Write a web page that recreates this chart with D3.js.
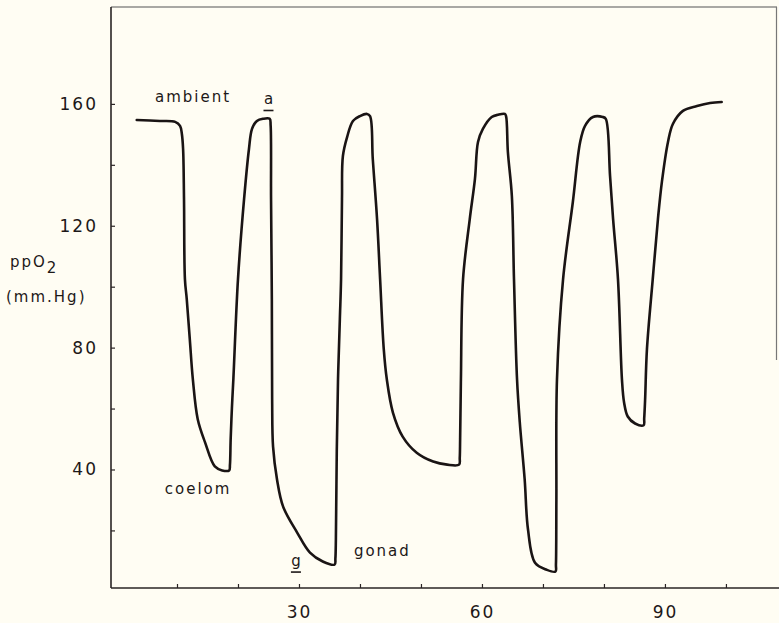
<!DOCTYPE html>
<html>
<head>
<meta charset="utf-8">
<script src="https://cdn.jsdelivr.net/npm/d3@7"></script>
<style>
  html, body { margin: 0; padding: 0; background: #fffdf3; }
  svg { display: block; }
  text { font-family: "DejaVu Sans", sans-serif; fill: #1d1818; }
</style>
</head>
<body>
<svg id="chart" width="779" height="623"></svg>
<script>
// time (x) values of the trace
const traceTime = [3.4, 7.2, 9.7, 10.5, 10.8, 11.0, 11.15, 11.3, 11.6, 12.1, 12.6, 13.4, 14.6, 16.2, 17.4, 18.55,
  18.68, 18.8, 19.0, 19.25, 20.0, 21.0, 21.8, 22.3, 23.1, 24.1, 25.2,
  25.35, 25.42, 25.55, 25.6, 25.75, 26.4, 27.4, 29.7, 31.8, 33.9, 35.85,
  35.97, 36.05, 36.2, 36.4, 36.7, 36.9, 37.05, 37.2, 37.9, 38.85, 40.0, 41.15, 41.65,
  42.1, 42.8, 43.3, 43.9, 44.4, 45.4, 47.0, 49.3, 52.0, 54.3, 56.25,
  56.36, 56.42, 56.55, 56.9, 58.0, 58.85, 59.35, 60.15, 61.6, 62.6, 63.75,
  63.95, 64.25, 64.9, 65.25, 65.75, 66.2, 67.0, 67.55, 68.7, 70.6, 72.05,
  72.13, 72.2, 72.3, 73.3, 74.9, 76.1, 76.9, 78.2, 79.8, 80.3,
  81.0, 81.5, 82.3, 82.95, 83.3, 83.9, 85.1, 86.5,
  86.6, 86.75, 87.05, 88.0, 88.85, 89.5, 90.5, 91.3, 92.95, 95.25, 97.4, 99.3];
// ppO2 values of the trace (mm Hg)
const tracePpO2 = [154.7, 154.4, 154.1, 152.8, 150.1, 145.2, 128.8, 102.5, 95.9, 82.7, 69.6, 56.5, 48.9, 41.0, 39.7, 39.7,
  41.5, 50.0, 60.0, 70.0, 102.5, 128.8, 145.2, 151.8, 154.4, 155.1, 155.1,
  153.0, 128.8, 95.9, 63.0, 47.5, 36.7, 27.8, 19.3, 12.7, 9.8, 8.8,
  10.8, 17.0, 46.6, 69.6, 89.3, 102.5, 128.8, 142.9, 149.2, 154.4, 156.0, 156.7, 156.0,
  141.9, 122.2, 102.5, 79.5, 69.6, 58.7, 50.8, 45.5, 42.6, 41.6, 41.6,
  43.8, 50.0, 69.6, 102.5, 122.2, 135.4, 147.5, 151.8, 155.7, 156.4, 156.7,
  156.0, 144.2, 129.8, 102.5, 69.6, 55.5, 36.8, 20.3, 9.4, 7.1, 6.5,
  8.8, 30.0, 69.6, 102.5, 127.8, 147.5, 152.8, 155.7, 155.7, 155.1,
  136.4, 122.2, 102.5, 69.6, 62.0, 57.4, 55.1, 54.5,
  56.8, 63.0, 79.5, 102.5, 122.2, 134.4, 147.5, 153.4, 157.7, 159.3, 160.3, 160.6];

const xTicks = [10, 20, 30, 40, 50, 60, 70, 80, 90, 100];
const xTickLabels = [30, 60, 90];
const yTicks = [20, 40, 60, 80, 100, 120, 140, 160];
const yTickLabels = [40, 80, 120, 160];

const annotations = [
  { text: "ambient", t: 6.4, p: 160.5, under: false },
  { text: "a", t: 25.0, p: 159.8, under: true },
  { text: "coelom", t: 8.0, p: 31.8, under: false },
  { text: "g", t: 29.5, p: 8.3, under: true },
  { text: "gonad", t: 39.0, p: 11.5, under: false }
];

const svg = d3.select("#chart");
const x = d3.scaleLinear().domain([-0.82, 108.7]).range([111, 779]);
const y = d3.scaleLinear().domain([1.1, 191.8]).range([588, 7]);

const axisColor = "#2a2424";

// frame: top line and partial right line
svg.append("line").attr("x1", x(-0.82)).attr("x2", 777).attr("y1", 7).attr("y2", 7)
  .attr("stroke", "#555").attr("stroke-width", 1.2);
svg.append("line").attr("x1", 776.5).attr("x2", 776.5).attr("y1", 7).attr("y2", 360)
  .attr("stroke", "#777").attr("stroke-width", 1.2);

// x axis
const gx = svg.append("g").attr("transform", `translate(0,${y(1.1)})`)
  .call(d3.axisBottom(x).tickValues(xTicks).tickSize(-4).tickPadding(18)
    .tickFormat(d => xTickLabels.includes(d) ? d : ""));
gx.select(".domain").attr("stroke", axisColor).attr("stroke-width", 1.6)
  .attr("d", `M${x(-0.82)},0H779`);
gx.selectAll(".tick line").attr("stroke", axisColor).attr("stroke-width", 1.2);
gx.selectAll(".tick text").style("font-size", "17px").style("letter-spacing", "2px")
  .attr("font-family", null).attr("fill", "#1d1818");

// y axis
const gy = svg.append("g").attr("transform", `translate(${x(-0.82)},0)`)
  .call(d3.axisLeft(y).tickValues(yTicks).tickSize(-4).tickPadding(13)
    .tickFormat(d => yTickLabels.includes(d) ? d : ""));
gy.select(".domain").attr("stroke", axisColor).attr("stroke-width", 1.6)
  .attr("d", `M0,7V${y(1.1)}`);
gy.selectAll(".tick line").attr("stroke", axisColor).attr("stroke-width", 1.2);
gy.selectAll(".tick text").style("font-size", "17px").style("letter-spacing", "2px")
  .attr("font-family", null).attr("fill", "#1d1818");

// y axis title
const yt = svg.append("text").attr("x", 10).attr("y", 267).style("font-size", "15px").style("letter-spacing", "2px");
yt.append("tspan").text("ppO");
yt.append("tspan").attr("dy", 6).style("font-size", "15px").text("2");
svg.append("text").attr("x", 6).attr("y", 302).style("font-size", "15px").style("letter-spacing", "2px").text("(mm.Hg)");

// trace
const pts = traceTime.map((t, i) => [t, tracePpO2[i]]);
const line = d3.line().x(d => x(d[0])).y(d => y(d[1])).curve(d3.curveCatmullRom.alpha(0.5));
svg.append("path").datum(pts).attr("d", line)
  .attr("fill", "none").attr("stroke", "#1a1414").attr("stroke-width", 2.6)
  .attr("stroke-linejoin", "round").attr("stroke-linecap", "round");

// annotations
annotations.forEach(a => {
  const tx = svg.append("text").attr("x", x(a.t)).attr("y", y(a.p))
    .style("font-size", "15px").style("letter-spacing", a.under ? "0px" : "2px")
    .attr("text-anchor", a.under ? "middle" : "start").text(a.text);
  if (a.under) {
    svg.append("line").attr("x1", x(a.t) - 5).attr("x2", x(a.t) + 5)
      .attr("y1", y(a.p) + 6).attr("y2", y(a.p) + 6)
      .attr("stroke", "#1d1818").attr("stroke-width", 1.6);
  }
});
</script>
</body>
</html>
